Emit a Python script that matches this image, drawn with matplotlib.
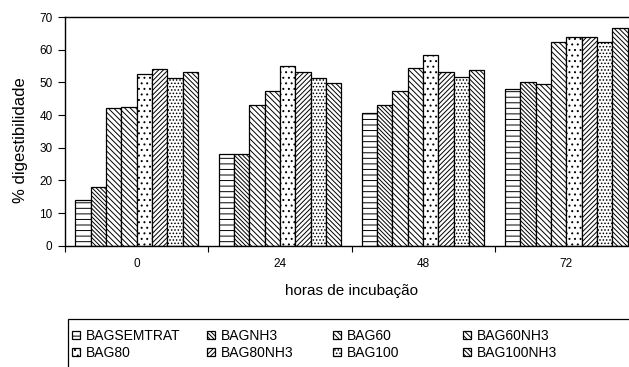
import numpy as np
import matplotlib.pyplot as plt
from matplotlib.patches import Rectangle

plt.rcParams['font.family'] = ['Liberation Sans', 'DejaVu Sans']
plt.rcParams['hatch.linewidth'] = 0.7

# incubation times (h) and digestibility (%) per treatment
horas = ['0', '24', '48', '72']
series = ['BAGSEMTRAT', 'BAGNH3', 'BAG60', 'BAG60NH3',
          'BAG80', 'BAG80NH3', 'BAG100', 'BAG100NH3']
bag_semtrat = [14.0, 28.0, 40.5, 48.0]
bag_nh3 = [18.0, 28.0, 43.0, 50.0]
bag60 = [42.0, 43.0, 47.5, 49.5]
bag60_nh3 = [42.3, 47.5, 54.5, 62.5]
bag80 = [52.5, 55.0, 58.3, 64.0]
bag80_nh3 = [54.2, 53.2, 53.2, 64.0]
bag100 = [51.4, 51.4, 51.5, 62.2]
bag100_nh3 = [53.2, 49.8, 53.7, 66.7]

values = [bag_semtrat, bag_nh3, bag60, bag60_nh3,
          bag80, bag80_nh3, bag100, bag100_nh3]
hatches = ['---', '\\' * 8, '\\' * 6, '\\' * 6, '...', '/' * 7, '.....', '\\' * 7]

fig = plt.figure(figsize=(6.29, 3.67), dpi=100)
ax = fig.add_axes([65 / 629, 1 - 245.7 / 367, 573 / 629, 228.7 / 367])

x = np.arange(len(horas)) + 0.5
width = 0.107
bars = []
for j, (name, vals) in enumerate(zip(series, values)):
    b = ax.bar(x + (j - 3.5) * width, vals, width, color='white',
               edgecolor='black', linewidth=0.9, hatch=hatches[j], label=name)
    bars.append(b)

ax.set_xlim(0, 4)
ax.set_ylim(0, 70)
ax.set_yticks(range(0, 71, 10))
ax.set_xticks(np.arange(0, 5))
ax.set_xticklabels([])
ax.set_xticks(x, minor=True)
ax.set_xticklabels(horas, minor=True)
ax.tick_params(axis='x', which='major', length=4, width=0.8)
ax.tick_params(axis='x', which='minor', length=0, pad=9, labelsize=8.5)
ax.tick_params(axis='y', length=5, width=0.8, labelsize=8.5, pad=4)
for s in ax.spines.values():
    s.set_linewidth(1.0)

ax.set_xlabel('horas de incubação', fontsize=11, labelpad=10)
fig.text(21 / 629, 1 - 140 / 367, '% digestibilidade', rotation=90,
         ha='center', va='center', fontsize=12)

# legend laid out as four fixed-width columns of two entries
col_x = [72, 207, 333, 463]
for c in range(4):
    idx = [c, c + 4]
    fig.legend([bars[i] for i in idx], [series[i] for i in idx],
               loc='upper left', bbox_to_anchor=(col_x[c] / 629, 1 - 329 / 367),
               fontsize=10, handlelength=0.55, handleheight=0.55,
               handletextpad=0.45, labelspacing=0.22, borderpad=0,
               borderaxespad=0, frameon=False)
fig.add_artist(Rectangle((68 / 629, -0.1), 0.95, 1 - 319 / 367 + 0.1,
                         transform=fig.transFigure, fill=False,
                         edgecolor='black', linewidth=0.9))

fig.savefig('out.png', dpi=100)
